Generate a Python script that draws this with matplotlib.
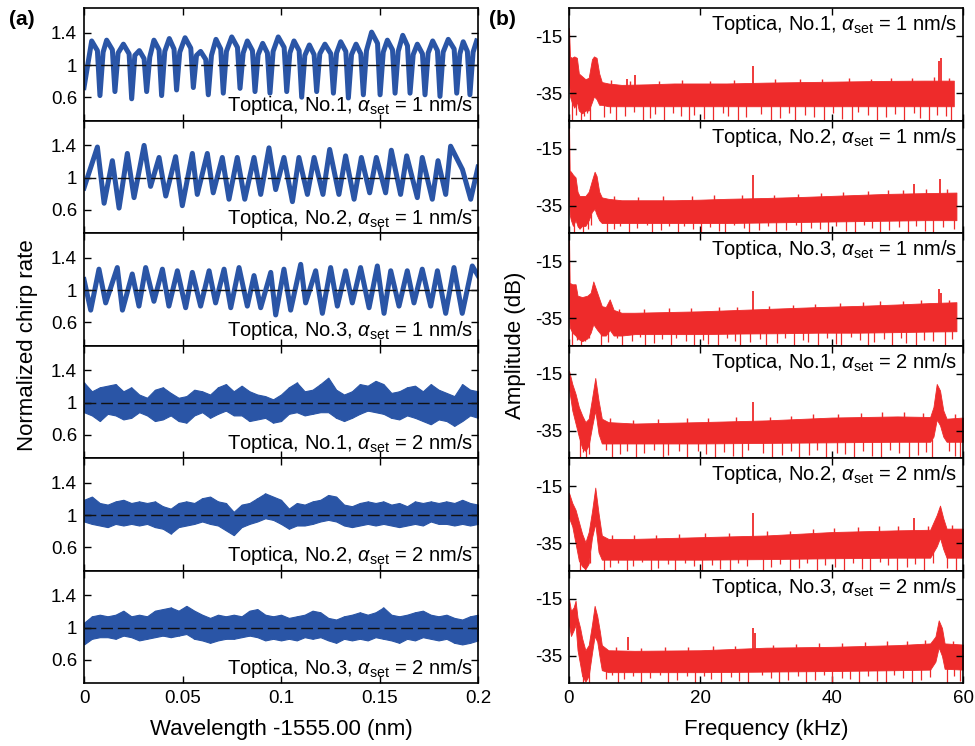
import numpy as np
import matplotlib
matplotlib.use("Agg")
import matplotlib.pyplot as plt

plt.rcParams['font.family'] = ['Liberation Sans', 'DejaVu Sans']
plt.rcParams['mathtext.fontset'] = 'custom'
plt.rcParams['mathtext.rm'] = 'Liberation Sans'
plt.rcParams['mathtext.it'] = 'Liberation Sans:italic'
plt.rcParams['axes.unicode_minus'] = False

BLUE = '#2A55A6'
RED = '#EE2B2B'

# ---------------- data: left column (normalized chirp rate) ----------------
L1_trough_x = [0.0, 0.0081, 0.0157, 0.0242, 0.0318, 0.0394, 0.0470, 0.0555, 0.0631, 0.0707, 0.0792, 0.0868,
               0.0944, 0.1029, 0.1105, 0.1181, 0.1266, 0.1342, 0.1418, 0.1503, 0.1579, 0.1655, 0.1731,
               0.1807, 0.1892, 0.1959]
L1_trough_y = [0.72, 0.62, 0.67, 0.58, 0.67, 0.62, 0.69, 0.72, 0.63, 0.65, 0.71, 0.67, 0.65, 0.67, 0.60, 0.67,
               0.65, 0.59, 0.63, 0.63, 0.65, 0.65, 0.63, 0.61, 0.65, 0.63]
L1_peak_x = [0.0039, 0.0115, 0.0200, 0.0281, 0.0355, 0.0433, 0.0513, 0.0592, 0.0670, 0.0750, 0.0829, 0.0907,
             0.0986, 0.1066, 0.1144, 0.1223, 0.1303, 0.1381, 0.1460, 0.1540, 0.1618, 0.1692, 0.1770,
             0.1849, 0.1925, 0.1993]
L1_peak_y = [1.30, 1.31, 1.26, 1.18, 1.31, 1.33, 1.34, 1.17, 1.32, 1.35, 1.30, 1.27, 1.35, 1.30, 1.25, 1.26,
             1.29, 1.26, 1.41, 1.31, 1.37, 1.26, 1.30, 1.32, 1.29, 1.30]
# rising shoulders (just after each trough) and falling shoulders (just before each trough)
L1_rise_x = [0.0097, 0.0173, 0.0258, 0.0334, 0.0410, 0.0486, 0.0571, 0.0647, 0.0723, 0.0808, 0.0884, 0.0960,
             0.1045, 0.1121, 0.1197, 0.1282, 0.1358, 0.1434, 0.1519, 0.1595, 0.1671, 0.1747, 0.1823, 0.1908,
             0.1975]
L1_rise_y = [1.16, 1.15, 1.12, 1.10, 1.17, 1.16, 1.12, 1.12, 1.17, 1.15, 1.13, 1.17, 1.15, 1.12, 1.14, 1.15,
             1.13, 1.18, 1.16, 1.17, 1.13, 1.15, 1.16, 1.14, 1.16]
L1_fall_x = [0.0068, 0.0144, 0.0229, 0.0305, 0.0381, 0.0457, 0.0542, 0.0618, 0.0694, 0.0779, 0.0855, 0.0931,
             0.1016, 0.1092, 0.1168, 0.1253, 0.1329, 0.1405, 0.1490, 0.1566, 0.1642, 0.1718, 0.1794, 0.1879,
             0.1946]
L1_fall_y = [1.18, 1.19, 1.14, 1.08, 1.19, 1.20, 1.21, 1.07, 1.20, 1.22, 1.18, 1.15, 1.22, 1.18, 1.13, 1.14,
             1.17, 1.14, 1.27, 1.19, 1.24, 1.14, 1.18, 1.20, 1.17]

L2_x = [0.0, 0.0068, 0.0102, 0.0144, 0.0178, 0.0220, 0.0254, 0.0305, 0.0338, 0.0381, 0.0415, 0.0465, 0.0499,
        0.0550, 0.0575, 0.0626, 0.0656, 0.0702, 0.0736, 0.0778, 0.0816, 0.0863, 0.0897, 0.0939, 0.0973, 0.1015,
        0.1058, 0.1091, 0.1134, 0.1168, 0.1213, 0.1247, 0.1294, 0.1328, 0.1371, 0.1408, 0.1450, 0.1484, 0.1531,
        0.1560, 0.1607, 0.1638, 0.1692, 0.1717, 0.1768, 0.1797, 0.1836, 0.1861, 0.1921, 0.1963, 0.2000]
L2_y = [0.87, 1.38, 0.68, 1.21, 0.62, 1.30, 0.75, 1.40, 0.89, 1.25, 0.77, 1.26, 0.65, 1.30, 0.79, 1.30, 0.81,
        1.25, 0.73, 1.25, 0.73, 1.25, 0.79, 1.37, 0.85, 1.25, 0.70, 1.25, 0.79, 1.25, 0.79, 1.35, 0.79, 1.27,
        0.73, 1.25, 0.81, 1.25, 0.81, 1.34, 0.79, 1.27, 0.75, 1.25, 0.73, 1.21, 0.79, 1.39, 1.10, 0.73, 1.13]

L3_x = [0.0, 0.0034, 0.0076, 0.0110, 0.0169, 0.0195, 0.0245, 0.0279, 0.0313, 0.0355, 0.0398, 0.0431, 0.0474,
        0.0516, 0.0550, 0.0592, 0.0635, 0.0668, 0.0711, 0.0745, 0.0787, 0.0829, 0.0863, 0.0897, 0.0948, 0.0973,
        0.1015, 0.1049, 0.1100, 0.1125, 0.1176, 0.1210, 0.1252, 0.1286, 0.1328, 0.1362, 0.1404, 0.1447, 0.1489,
        0.1523, 0.1557, 0.1599, 0.1641, 0.1675, 0.1717, 0.1760, 0.1794, 0.1836, 0.1878, 0.1920, 0.1971, 0.2000]
L3_y = [1.13, 0.75, 1.26, 0.84, 1.28, 0.75, 1.20, 0.80, 1.28, 0.86, 1.26, 0.80, 1.24, 0.78, 1.22, 0.80, 1.24,
        0.84, 1.26, 0.78, 1.28, 0.80, 1.18, 0.78, 1.22, 0.69, 1.26, 0.75, 1.32, 0.84, 1.24, 0.71, 1.28, 0.80,
        1.24, 0.84, 1.28, 0.78, 1.30, 0.71, 1.24, 0.80, 1.24, 0.84, 1.26, 0.80, 1.24, 0.71, 1.28, 0.71, 1.30, 1.18]

# noisy traces (2 nm/s): upper / lower envelope of the trace, uniformly sampled over 0..0.2 nm
L4_up = [1.25, 1.14, 1.19, 1.21, 1.23, 1.14, 1.19, 1.10, 1.06, 1.16, 1.19, 1.12, 1.06, 1.08, 1.16, 1.14, 1.10,
         1.19, 1.23, 1.14, 1.21, 1.14, 1.10, 1.08, 1.04, 1.10, 1.19, 1.25, 1.14, 1.16, 1.23, 1.31, 1.16, 1.10,
         1.14, 1.23, 1.21, 1.27, 1.23, 1.12, 1.14, 1.19, 1.21, 1.14, 1.23, 1.16, 1.12, 1.08, 1.23, 1.16, 1.14]
L4_lo = [0.88, 0.84, 0.77, 0.86, 0.84, 0.79, 0.81, 0.88, 0.84, 0.77, 0.79, 0.84, 0.77, 0.75, 0.84, 0.88, 0.81,
         0.86, 0.90, 0.84, 0.84, 0.77, 0.79, 0.81, 0.75, 0.77, 0.86, 0.88, 0.84, 0.86, 0.88, 0.88, 0.81, 0.77,
         0.81, 0.86, 0.90, 0.88, 0.86, 0.81, 0.79, 0.84, 0.81, 0.77, 0.73, 0.79, 0.77, 0.71, 0.77, 0.84, 0.81]
L5_up = [1.19, 1.23, 1.15, 1.13, 1.17, 1.19, 1.15, 1.17, 1.15, 1.17, 1.11, 1.08, 1.15, 1.17, 1.15, 1.21, 1.23,
         1.17, 1.15, 1.04, 1.13, 1.15, 1.21, 1.27, 1.23, 1.19, 1.08, 1.15, 1.13, 1.17, 1.19, 1.25, 1.23, 1.13,
         1.11, 1.15, 1.17, 1.15, 1.17, 1.13, 1.15, 1.11, 1.17, 1.15, 1.17, 1.15, 1.17, 1.15, 1.19, 1.15, 1.13]
L5_lo = [0.92, 0.89, 0.87, 0.85, 0.89, 0.87, 0.89, 0.87, 0.89, 0.85, 0.83, 0.77, 0.85, 0.87, 0.89, 0.92, 0.89,
         0.87, 0.81, 0.75, 0.85, 0.89, 0.92, 0.96, 0.94, 0.89, 0.83, 0.87, 0.87, 0.89, 0.92, 0.94, 0.92, 0.87,
         0.85, 0.87, 0.89, 0.87, 0.89, 0.87, 0.85, 0.87, 0.89, 0.87, 0.92, 0.89, 0.89, 0.87, 0.89, 0.87, 0.89]
L6_up = [1.06, 1.14, 1.16, 1.14, 1.16, 1.21, 1.14, 1.16, 1.14, 1.21, 1.23, 1.25, 1.21, 1.27, 1.21, 1.16, 1.12,
         1.16, 1.14, 1.16, 1.14, 1.21, 1.23, 1.16, 1.14, 1.16, 1.12, 1.14, 1.16, 1.21, 1.19, 1.12, 1.10, 1.14,
         1.16, 1.19, 1.16, 1.19, 1.25, 1.16, 1.14, 1.16, 1.19, 1.21, 1.16, 1.14, 1.16, 1.12, 1.10, 1.14, 1.16]
L6_lo = [0.79, 0.86, 0.88, 0.88, 0.86, 0.90, 0.88, 0.84, 0.86, 0.88, 0.90, 0.88, 0.90, 0.92, 0.86, 0.84, 0.81,
         0.84, 0.86, 0.86, 0.88, 0.90, 0.88, 0.84, 0.86, 0.84, 0.86, 0.84, 0.88, 0.86, 0.88, 0.84, 0.81, 0.86,
         0.84, 0.86, 0.84, 0.88, 0.86, 0.84, 0.81, 0.86, 0.84, 0.88, 0.86, 0.84, 0.86, 0.81, 0.79, 0.81, 0.84]

# ---------------- data: right column (spectra, dB) ----------------
R1_f = [0, 0.15, 0.4, 0.8, 1.2, 1.5, 2.0, 2.5, 3.0, 3.5, 3.8, 4.2, 4.6, 5.0, 6, 8, 12, 16, 20, 24, 30, 36, 42, 48, 54, 58.6]
R1_up = [-12, -22, -22.5, -22, -22.5, -28, -29, -30, -29.5, -23, -22, -22.5, -28, -31, -31.5, -32, -31.8, -31.5,
         -31.5, -31.5, -31.2, -31, -30.8, -30.6, -30.5, -30.5]
R1_lo = [-30, -36, -38, -40, -38, -41, -42, -41, -41, -38, -36, -37, -39, -39, -39.5, -39.5, -39.5, -39.5, -39.5,
         -39.5, -39.5, -39.5, -39.5, -39.5, -39.5, -39.5]

R2_f = [0, 0.1, 0.3, 0.6, 1.0, 1.3, 1.6, 2.0, 2.5, 3.0, 3.5, 3.9, 4.2, 4.6, 5.0, 6, 8, 12, 16, 20, 24, 30, 36, 42, 48, 54, 59]
R2_up = [-5, -22.5, -23, -24, -25, -30, -31.5, -31.5, -31.5, -30, -26, -23, -24.5, -30, -32, -32.5, -33, -33, -33,
         -32.8, -32.5, -32.2, -31.8, -31.3, -30.8, -30.5, -30.3]
R2_lo = [-30, -38, -40, -42, -40, -42, -43, -42, -42, -40, -37, -36, -38, -40, -41, -41, -41, -41, -41, -41, -41,
         -40.8, -40.6, -40.4, -40.2, -40, -40]

R3_f = [0, 0.1, 0.5, 1.0, 1.3, 2.0, 2.8, 3.3, 3.7, 4.3, 5.0, 5.6, 6.2, 6.8, 8, 10, 14, 20, 26, 32, 38, 44, 50, 55, 59]
R3_up = [-5, -22.5, -23, -23, -27, -27.5, -27, -26, -22, -26, -30.7, -31, -28.3, -32, -33, -33, -32.8, -32.5, -32,
         -31.5, -31, -30.6, -30.1, -29.6, -29.3]
R3_lo = [-30, -38, -40, -41, -42, -43, -42, -40, -37, -39, -41, -41, -39, -41, -41, -40.5, -40.5, -40.5, -40.3,
         -40.2, -40, -40, -39.8, -39.6, -39.5]

R4_f = [0, 0.5, 1.0, 1.5, 2.0, 2.5, 3.0, 3.5, 4.0, 4.5, 5.0, 6, 10, 20, 30, 40, 50, 55, 55.5, 56, 56.5, 57, 57.5, 60]
R4_up = [-13.8, -18.5, -22, -26.6, -29.5, -31.9, -30.7, -23.7, -16.4, -24.3, -30.7, -31.9, -32.4, -31.9, -31.3,
         -30.3, -29.9, -30.1, -26.6, -18.5, -20.8, -27.8, -30.7, -30.3]
R4_lo = [-20, -27.8, -32.4, -37, -41, -42, -40, -33.6, -27.8, -36, -39.4, -39.4, -39.4, -39.4, -39.2, -39, -38.8,
         -38.8, -37, -31, -33, -37, -38.8, -38.8]

R5_f = [0, 0.5, 1.0, 1.5, 2.0, 2.5, 3.0, 3.5, 4.0, 4.5, 5.0, 6, 10, 20, 30, 40, 50, 55, 56, 56.5, 57, 57.5, 60]
R5_up = [-17.2, -20.8, -23.2, -27.4, -31.6, -34.6, -31, -23.8, -15.4, -24.4, -32.2, -33.4, -33.4, -32.8, -32.2,
         -31, -30.4, -30.2, -25, -21.7, -26.2, -29.8, -29.8]
R5_lo = [-26, -29, -35, -41, -43, -44, -42, -33, -28, -38, -40.7, -40.7, -40.7, -40.7, -40.5, -40.2, -40, -40,
         -36, -33, -37, -40, -40]

R6_f = [0, 0.3, 0.7, 1.0, 1.3, 1.7, 2.0, 2.5, 3.0, 3.5, 3.9, 4.3, 4.7, 5.0, 6, 10, 20, 30, 40, 50, 55, 55.8, 56.3,
        56.8, 57.2, 60]
R6_up = [-15, -19.2, -18, -15.6, -21.6, -25.2, -28.8, -33, -31.2, -24, -17.4, -21, -26.4, -31.2, -33, -33.2, -33,
         -32.1, -31.8, -31.2, -30.6, -28.2, -22.5, -25.2, -30.6, -31]
R6_lo = [-24, -28, -26, -24, -33, -38, -42, -44, -42, -34, -28, -30, -36, -40, -40.7, -40.7, -40.7, -40.5, -40.3,
         -40, -39.8, -37, -32, -35, -39.5, -39.8]

# narrow upward spikes (frequency kHz, peak dB)
R1_spk_f = [8.8, 10.0, 28.0, 56.3, 56.7]
R1_spk_y = [-30.0, -28.5, -25.5, -23.5, -22.5]
R2_spk_f = [28.0, 52.5, 56.5]
R2_spk_y = [-24.2, -27.4, -25.6]
R3_spk_f = [28.0, 56.4, 56.7]
R3_spk_y = [-25.4, -24.8, -26.0]
R4_spk_f = [28.0]
R4_spk_y = [-24.9]
R5_spk_f = [28.0, 52.5]
R5_spk_y = [-24.2, -26.2]
R6_spk_f = [9.0, 28.0, 28.3]
R6_spk_y = [-28.2, -25.2, -27.0]

# small noise excursions above the floor (kHz, dB)
R1_up_f = [6.4, 9.3, 13.7, 17.2, 21.5, 25.1, 31.4, 35.2, 38.6, 42.7, 46.0, 49.1, 52.2, 55.6, 57.8]
R1_up_y = [-30.3, -30.5, -30.6, -30.2, -30.5, -30.4, -30.0, -29.8, -30.1, -29.6, -29.9, -29.5, -29.6, -29.2, -29.5]
R2_up_f = [6.8, 10.5, 14.3, 18.8, 22.1, 26.4, 31.2, 34.9, 38.3, 41.8, 45.5, 48.6, 50.9, 54.3, 57.6]
R2_up_y = [-31.5, -31.8, -31.6, -31.5, -31.3, -31.2, -31.0, -30.8, -30.5, -30.2, -29.8, -29.5, -29.4, -29.0, -29.1]
R3_up_f = [7.6, 11.4, 15.2, 18.6, 22.9, 25.6, 30.4, 34.1, 37.5, 41.3, 44.8, 47.4, 50.8, 53.6, 57.9]
R3_up_y = [-31.8, -31.6, -31.5, -31.4, -31.0, -31.1, -30.6, -30.4, -30.0, -29.5, -29.4, -29.0, -28.7, -28.5, -28.4]
R4_up_f = [6.3, 9.8, 13.5, 17.9, 21.2, 25.5, 30.6, 33.8, 37.2, 40.9, 44.4, 47.7, 51.0, 53.9, 58.8]
R4_up_y = [-30.6, -31.0, -30.9, -30.6, -30.5, -30.2, -30.0, -29.8, -29.2, -29.0, -28.7, -28.5, -28.4, -28.8, -28.9]
R5_up_f = [6.5, 9.9, 13.2, 16.8, 20.7, 24.3, 30.2, 33.6, 37.1, 40.4, 44.0, 47.2, 50.1, 54.6, 58.3]
R5_up_y = [-32.0, -32.1, -31.9, -31.6, -31.5, -31.2, -30.8, -30.5, -30.0, -29.6, -29.4, -29.0, -28.8, -28.7, -28.6]
R6_up_f = [7.1, 11.0, 14.6, 18.1, 21.9, 25.3, 31.0, 34.5, 38.0, 41.6, 45.1, 48.4, 51.5, 54.2, 58.5]
R6_up_y = [-32.0, -32.2, -32.0, -31.8, -31.6, -31.4, -31.0, -30.8, -30.5, -30.4, -30.0, -29.9, -29.6, -29.4, -29.6]

# downward noise dips (kHz, dB reached)
R1_dips = [0.5, 1.1, 1.9, 2.3, 2.8, 3.2, 5.4, 6.3, 7.1, 8.6, 9.9, 11.2, 12.4, 13.1, 14.5, 15.8, 17.0, 18.3, 19.1,
           20.6, 21.9, 23.4, 24.2, 25.7, 27.0, 29.3, 30.8, 32.1, 33.5, 34.4, 36.0, 37.3, 38.9, 40.2, 41.6, 43.1,
           44.0, 45.5, 46.9, 48.3, 49.7, 51.0, 52.6, 53.4, 54.8, 56.0, 57.4, 58.2]
R2_dips = [0.7, 1.4, 2.2, 2.9, 3.3, 5.8, 6.9, 7.7, 9.1, 10.4, 11.9, 12.7, 14.0, 15.2, 16.6, 17.5, 18.9, 20.1, 21.4,
           22.8, 23.7, 25.1, 26.6, 27.4, 29.0, 30.3, 31.5, 33.0, 34.6, 35.3, 36.8, 38.2, 39.5, 40.7, 42.2, 43.6,
           44.9, 46.1, 47.4, 48.8, 50.3, 51.6, 52.9, 54.2, 55.5, 57.0, 58.6]
R3_dips = [0.4, 1.2, 1.8, 2.5, 3.1, 4.8, 5.9, 7.3, 8.1, 9.6, 10.8, 11.6, 13.0, 14.2, 15.5, 16.3, 17.8, 19.0, 20.4,
           21.2, 22.7, 24.0, 25.3, 26.1, 27.6, 29.1, 30.0, 31.7, 32.9, 34.2, 35.6, 36.4, 37.9, 39.3, 40.6, 41.4,
           42.9, 44.3, 45.6, 46.4, 47.9, 49.2, 50.6, 51.3, 52.8, 54.1, 55.4, 57.2, 58.4]
R4_dips = [1.7, 2.2, 2.6, 3.1, 5.6, 6.5, 7.8, 8.9, 10.2, 11.4, 12.9, 14.3, 15.1, 16.7, 18.0, 19.6, 20.9, 22.3, 23.6,
           25.0, 26.4, 27.3, 29.5, 30.9, 32.4, 33.8, 35.1, 36.5, 37.7, 39.2, 40.8, 42.0, 43.4, 44.7, 46.2, 47.5,
           48.9, 50.2, 51.8, 53.1, 54.4, 55.3, 57.9, 58.8, 59.6]
R5_dips = [1.6, 2.1, 2.4, 2.8, 3.2, 5.3, 6.2, 7.4, 8.8, 9.7, 11.1, 12.5, 13.6, 15.0, 16.2, 17.7, 19.1, 20.3, 21.8,
           23.0, 24.5, 25.7, 27.1, 29.6, 30.8, 32.2, 33.7, 35.0, 36.3, 37.8, 39.0, 40.5, 41.9, 43.2, 44.6, 45.9,
           47.3, 48.6, 50.0, 51.4, 52.7, 54.0, 55.4, 57.6, 58.9]
R6_dips = [2.1, 2.6, 3.0, 5.7, 6.6, 7.5, 8.3, 9.8, 11.0, 12.3, 13.8, 15.1, 16.4, 17.9, 19.2, 20.5, 21.7, 23.2, 24.6,
           25.9, 27.2, 29.4, 30.7, 32.0, 33.4, 34.8, 36.1, 37.4, 38.8, 40.1, 41.5, 42.8, 44.2, 45.6, 46.9, 48.2,
           49.5, 50.9, 52.3, 53.6, 54.9, 57.5, 58.7, 59.5]
dip_depth = [-44.5, -42.5, -44.5, -43.0, -41.8, -44.5, -43.2, -42.0, -44.5, -42.8, -41.6, -44.5, -43.5, -42.2,
             -44.5, -41.9, -43.0, -44.5, -42.4, -43.8, -44.5, -41.7, -42.9, -44.5, -43.3, -42.1, -44.5, -43.6,
             -41.8, -44.5, -42.7, -43.1, -44.5, -42.0, -43.9, -44.5, -41.6, -42.6, -44.5, -43.4, -42.3, -44.5,
             -41.9, -43.7, -44.5, -42.5, -43.0, -44.5, -42.2]

labels = ["Toptica, No.1, $\\alpha_{\\rm set}$ = 1 nm/s", "Toptica, No.2, $\\alpha_{\\rm set}$ = 1 nm/s",
          "Toptica, No.3, $\\alpha_{\\rm set}$ = 1 nm/s", "Toptica, No.1, $\\alpha_{\\rm set}$ = 2 nm/s",
          "Toptica, No.2, $\\alpha_{\\rm set}$ = 2 nm/s", "Toptica, No.3, $\\alpha_{\\rm set}$ = 2 nm/s"]

left_xticks = [0, 0.05, 0.1, 0.15, 0.2]
left_xticklabels = ['0', '0.05', '0.1', '0.15', '0.2']
left_yticks = [0.6, 1, 1.4]
left_yticklabels = ['0.6', '1', '1.4']
right_xticks = [0, 20, 40, 60]
right_yticks = [-35, -15]

# ---------------- figure ----------------
W, H = 975, 746
fig = plt.figure(figsize=(W / 100, H / 100), dpi=100)

top_px, bot_px = 8, 683
ph = (bot_px - top_px) / 6
TS = 13.5
LS = 14.5

def style(ax):
    ax.tick_params(direction='in', top=True, right=True, length=5, width=1.0, labelsize=TS, pad=5)
    for s in ax.spines.values():
        s.set_linewidth(1.2)

left_axes, right_axes = [], []
for i in range(6):
    y0 = 1 - (top_px + (i + 1) * ph) / H
    hh = ph / H
    left_axes.append(fig.add_axes([84 / W, y0, 394 / W, hh]))
    right_axes.append(fig.add_axes([569 / W, y0, 394 / W, hh]))

# left panels
xs1 = np.array(L1_trough_x + L1_rise_x + L1_peak_x + L1_fall_x)
ys1 = np.array(L1_trough_y + L1_rise_y + L1_peak_y + L1_fall_y)
o = np.argsort(xs1)
left_axes[0].plot(xs1[o], ys1[o], color=BLUE, lw=3.6, solid_joinstyle='round')
left_axes[1].plot(L2_x, L2_y, color=BLUE, lw=3.6, solid_joinstyle='round')
left_axes[2].plot(L3_x, L3_y, color=BLUE, lw=3.6, solid_joinstyle='round')
for ax, up, lo in zip(left_axes[3:], [L4_up, L5_up, L6_up], [L4_lo, L5_lo, L6_lo]):
    xx = np.linspace(0, 0.2, len(up))
    ax.fill_between(xx, lo, up, color=BLUE, lw=0.8, edgecolor=BLUE)
    ax.vlines(xx, lo, up, color=BLUE, lw=1.0)

for i, ax in enumerate(left_axes):
    ax.axhline(1, color='#111111', lw=1.0, ls=(0, (8.5, 3.5)), zorder=5)
    ax.set_xlim(0, 0.2)
    ax.set_ylim(0.31, 1.71)
    ax.set_yticks(left_yticks)
    ax.set_yticklabels(left_yticklabels)
    ax.set_xticks(left_xticks)
    ax.set_xticklabels(left_xticklabels if i == 5 else [])
    style(ax)
    ax.text(0.988, 0.03, labels[i], transform=ax.transAxes, ha='right', va='bottom', fontsize=LS, zorder=6)

# right panels
R_f = [R1_f, R2_f, R3_f, R4_f, R5_f, R6_f]
R_up = [R1_up, R2_up, R3_up, R4_up, R5_up, R6_up]
R_lo = [R1_lo, R2_lo, R3_lo, R4_lo, R5_lo, R6_lo]
R_sf = [R1_spk_f, R2_spk_f, R3_spk_f, R4_spk_f, R5_spk_f, R6_spk_f]
R_sy = [R1_spk_y, R2_spk_y, R3_spk_y, R4_spk_y, R5_spk_y, R6_spk_y]
R_uf = [R1_up_f, R2_up_f, R3_up_f, R4_up_f, R5_up_f, R6_up_f]
R_uy = [R1_up_y, R2_up_y, R3_up_y, R4_up_y, R5_up_y, R6_up_y]
R_d = [R1_dips, R2_dips, R3_dips, R4_dips, R5_dips, R6_dips]
YB, YT = -44.5, -5
for i, ax in enumerate(right_axes):
    ax.fill_between(R_f[i], R_lo[i], R_up[i], color=RED, lw=0.6, edgecolor=RED)
    ax.vlines(R_sf[i], -33, R_sy[i], color=RED, lw=1.3)
    ax.vlines(R_uf[i], -34, R_uy[i], color=RED, lw=1.0)
    n = min(len(R_d[i]), len(dip_depth))
    ax.vlines(R_d[i][:n], dip_depth[:n], -38, color=RED, lw=0.9)
    ax.set_xlim(0, 60)
    ax.set_ylim(YB, YT)
    ax.set_yticks(right_yticks)
    ax.set_xticks(right_xticks)
    if i != 5:
        ax.set_xticklabels([])
    style(ax)
    ax.text(0.985, 0.955, labels[i], transform=ax.transAxes, ha='right', va='top', fontsize=LS, zorder=6)

fig.text(28 / W, 1 - 345 / H, 'Normalized chirp rate', rotation=90, ha='center', va='center', fontsize=16)
fig.text(515 / W, 1 - 345 / H, 'Amplitude (dB)', rotation=90, ha='center', va='center', fontsize=16)
fig.text(281 / W, 1 - 735 / H, 'Wavelength -1555.00 (nm)', ha='center', va='baseline', fontsize=16)
fig.text(766 / W, 1 - 735 / H, 'Frequency (kHz)', ha='center', va='baseline', fontsize=16)
fig.text(9 / W, 1 - 25 / H, '(a)', fontsize=15, fontweight='bold', ha='left', va='baseline')
fig.text(489 / W, 1 - 25 / H, '(b)', fontsize=15, fontweight='bold', ha='left', va='baseline')

fig.savefig('out.png', dpi=100)
